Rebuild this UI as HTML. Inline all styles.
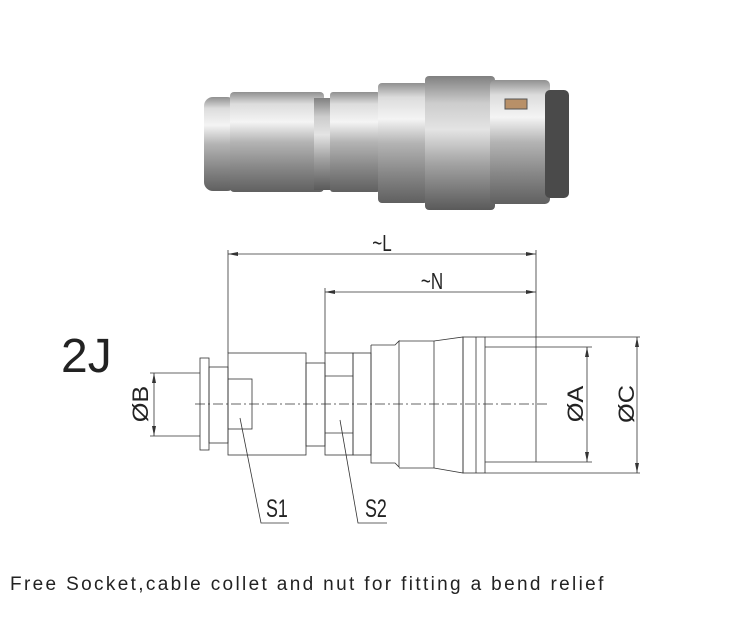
<!DOCTYPE html>
<html><head><meta charset="utf-8"><style>
html,body{margin:0;padding:0;background:#fff;}
svg{display:block;}
text{font-family:"Liberation Sans",sans-serif;fill:#222;}
</style></head><body>
<svg width="742" height="619" viewBox="0 0 742 619" xmlns="http://www.w3.org/2000/svg">
<defs>
<linearGradient id="m" x1="0" y1="0" x2="0" y2="1">
<stop offset="0" stop-color="#909090"/><stop offset="0.12" stop-color="#dcdcdc"/><stop offset="0.3" stop-color="#f4f4f4"/><stop offset="0.5" stop-color="#b4b4b4"/><stop offset="0.75" stop-color="#888"/><stop offset="1" stop-color="#606060"/>
</linearGradient>
<linearGradient id="m2" x1="0" y1="0" x2="0" y2="1">
<stop offset="0" stop-color="#808080"/><stop offset="0.2" stop-color="#cccccc"/><stop offset="0.4" stop-color="#e4e4e4"/><stop offset="0.65" stop-color="#a4a4a4"/><stop offset="1" stop-color="#5a5a5a"/>
</linearGradient>
</defs>
<!-- photo -->
<rect x="204" y="97" width="32" height="94" rx="9" fill="url(#m)"/>
<rect x="230" y="92" width="94" height="100" rx="4" fill="url(#m)"/>
<rect x="314" y="98" width="20" height="92" fill="url(#m2)"/>
<rect x="330" y="92" width="50" height="100" rx="3" fill="url(#m)"/>
<rect x="378" y="83" width="50" height="120" rx="4" fill="url(#m)"/>
<rect x="425" y="76" width="70" height="134" rx="4" fill="url(#m2)"/>
<rect x="490" y="80" width="60" height="124" rx="5" fill="url(#m)"/>
<rect x="545" y="90" width="24" height="108" rx="5" fill="#4a4a4a"/>
<rect x="505" y="99" width="22" height="10" fill="#b89068" stroke="#555" stroke-width="1"/>
<!-- drawing -->
<g fill="none" stroke="#333" stroke-width="0.8">
<line x1="228" y1="250" x2="228" y2="353"/>
<line x1="536" y1="250" x2="536" y2="462"/>
<line x1="228" y1="254" x2="536" y2="254"/>
<line x1="325" y1="288" x2="325" y2="353"/>
<line x1="325" y1="292" x2="536" y2="292"/>
<rect x="200" y="358" width="9" height="92"/>
<rect x="209" y="367" width="19" height="76"/>
<rect x="228" y="353" width="78" height="102"/>
<rect x="228" y="379" width="24" height="50"/>
<rect x="306" y="363" width="19" height="83"/>
<rect x="325" y="353" width="28" height="102"/>
<line x1="325" y1="376" x2="353" y2="376"/><line x1="325" y1="433" x2="353" y2="433"/>
<rect x="353" y="353" width="18" height="102"/>
<polyline points="371,345 395,345 399,341 399,467 395,463 371,463 371,345"/>
<polyline points="399,341 434,341 463,337 463,473 434,468 399,468"/>
<line x1="434" y1="341" x2="434" y2="468"/>
<rect x="463" y="337" width="22" height="136"/>
<line x1="476" y1="337" x2="476" y2="473"/>
<polyline points="485,347 536,347"/><polyline points="485,462 536,462"/>
<line x1="485" y1="337" x2="640" y2="337"/><line x1="485" y1="473" x2="640" y2="473"/>
<line x1="536" y1="347" x2="592" y2="347"/><line x1="536" y1="462" x2="592" y2="462"/>
<line x1="587" y1="347" x2="587" y2="462"/>
<line x1="637" y1="337" x2="637" y2="473"/>
<line x1="150" y1="373" x2="200" y2="373"/><line x1="150" y1="436" x2="200" y2="436"/>
<line x1="154" y1="373" x2="154" y2="436"/>
<line x1="195" y1="404" x2="548" y2="404" stroke-dasharray="10,3,2,3"/>
<polyline points="240,418 261,523 289,523"/>
<polyline points="340,420 358,523 387,523"/>
</g>
<g fill="#333">
<path d="M228 254 l10 -2 v4z"/><path d="M536 254 l-10 -2 v4z"/>
<path d="M325 292 l10 -2 v4z"/><path d="M536 292 l-10 -2 v4z"/>
<path d="M587 347 l-2 10 h4z"/><path d="M587 462 l-2 -10 h4z"/>
<path d="M637 337 l-2 10 h4z"/><path d="M637 473 l-2 -10 h4z"/>
<path d="M154 373 l-2 10 h4z"/><path d="M154 436 l-2 -10 h4z"/>
</g>
<text transform="translate(382,251) scale(0.85,1.15)" font-size="20" text-anchor="middle">~L</text>
<text transform="translate(432,289) scale(0.85,1.15)" font-size="20" text-anchor="middle">~N</text>
<text transform="translate(266,517) scale(0.85,1.2)" font-size="21">S1</text>
<text transform="translate(365,517) scale(0.85,1.2)" font-size="21">S2</text>
<text x="61" y="372" font-size="48">2J</text>
<text transform="translate(148,404) rotate(-90) scale(1.1,0.95)" font-size="23" text-anchor="middle">ØB</text>
<text transform="translate(583,404) rotate(-90) scale(1.1,0.95)" font-size="23" text-anchor="middle">ØA</text>
<text transform="translate(634,404) rotate(-90) scale(1.1,0.95)" font-size="23" text-anchor="middle">ØC</text>
<text x="10" y="590" font-size="19" letter-spacing="2.35">Free Socket,cable collet and nut for fitting a bend relief</text>
</svg>
</body></html>
